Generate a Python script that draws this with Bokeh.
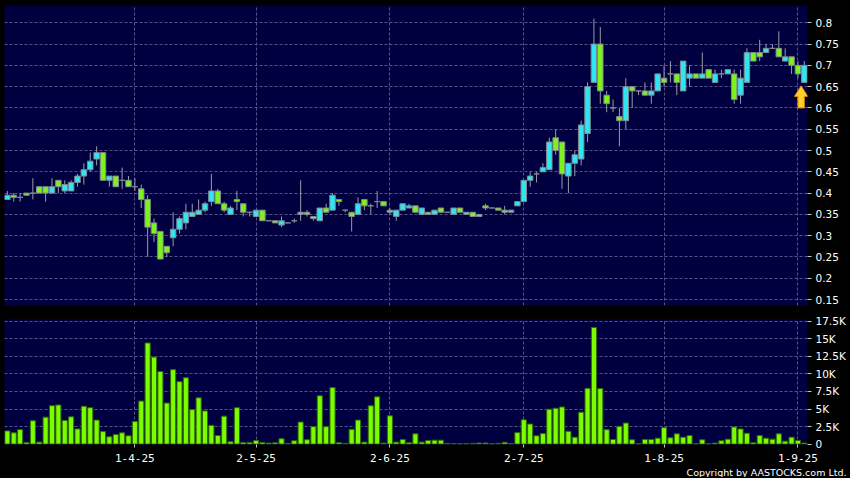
from bokeh.plotting import figure
from bokeh.layouts import column
from bokeh.models import (Range1d, FixedTicker, Title, ColumnDataSource, Grid,
                          GlobalInlineStyleSheet)
from bokeh.embed import file_html
from bokeh.resources import INLINE

# ---------------- data ----------------
opens = [0.385, 0.395, 0.39, 0.40, 0.40, 0.415, 0.415, 0.40, 0.43, 0.405,
         0.405, 0.425, 0.44, 0.455, 0.48, 0.495, 0.43, 0.44, 0.43, 0.43,
         0.415, 0.41, 0.385, 0.33, 0.31, 0.275, 0.295, 0.315, 0.33, 0.345,
         0.35, 0.36, 0.38, 0.405, 0.375, 0.35, 0.385, 0.375, 0.355, 0.345,
         0.36, 0.335, 0.335, 0.325, 0.33, 0.335, 0.35, 0.355, 0.345, 0.335,
         0.365, 0.36, 0.385, 0.36, 0.355, 0.35, 0.385, 0.37, 0.38, 0.38,
         0.36, 0.345, 0.36, 0.365, 0.37, 0.35, 0.355, 0.35, 0.365, 0.355,
         0.35, 0.365, 0.35, 0.355, 0.345, 0.37, 0.365, 0.365, 0.36, 0.355,
         0.37, 0.38, 0.43, 0.445, 0.45, 0.455, 0.53, 0.52, 0.44, 0.47,
         0.48, 0.54, 0.66, 0.75, 0.63, 0.60, 0.58, 0.57, 0.65, 0.64,
         0.64, 0.63, 0.64, 0.67, 0.68, 0.68, 0.64, 0.67, 0.68, 0.67,
         0.69, 0.66, 0.68, 0.68, 0.68, 0.63, 0.66, 0.73, 0.73, 0.73,
         0.74, 0.74, 0.71, 0.72, 0.70, 0.66]
highs = [0.405, 0.40, 0.40, 0.40, 0.435, 0.415, 0.415, 0.435, 0.43, 0.43,
         0.43, 0.445, 0.47, 0.495, 0.51, 0.495, 0.44, 0.44, 0.46, 0.44,
         0.435, 0.42, 0.395, 0.34, 0.31, 0.275, 0.355, 0.345, 0.375, 0.375,
         0.385, 0.38, 0.445, 0.41, 0.38, 0.37, 0.405, 0.375, 0.355, 0.36,
         0.36, 0.335, 0.335, 0.345, 0.33, 0.34, 0.43, 0.36, 0.345, 0.365,
         0.375, 0.40, 0.385, 0.36, 0.355, 0.39, 0.385, 0.375, 0.405, 0.38,
         0.365, 0.36, 0.375, 0.375, 0.37, 0.365, 0.355, 0.36, 0.365, 0.355,
         0.365, 0.365, 0.355, 0.355, 0.35, 0.375, 0.365, 0.365, 0.37, 0.36,
         0.38, 0.43, 0.45, 0.45, 0.47, 0.53, 0.55, 0.52, 0.47, 0.50,
         0.57, 0.66, 0.81, 0.79, 0.64, 0.62, 0.60, 0.67, 0.65, 0.64,
         0.66, 0.66, 0.68, 0.70, 0.71, 0.68, 0.71, 0.70, 0.68, 0.73,
         0.69, 0.69, 0.69, 0.69, 0.69, 0.69, 0.74, 0.73, 0.76, 0.75,
         0.75, 0.78, 0.74, 0.72, 0.71, 0.71]
lows = [0.385, 0.38, 0.38, 0.395, 0.385, 0.40, 0.38, 0.40, 0.40, 0.40,
        0.405, 0.415, 0.42, 0.45, 0.465, 0.43, 0.415, 0.415, 0.41, 0.415,
        0.405, 0.365, 0.25, 0.285, 0.245, 0.25, 0.275, 0.305, 0.315, 0.345,
        0.35, 0.355, 0.37, 0.375, 0.355, 0.35, 0.36, 0.345, 0.345, 0.345,
        0.335, 0.335, 0.33, 0.32, 0.33, 0.33, 0.335, 0.345, 0.335, 0.335,
        0.355, 0.36, 0.37, 0.355, 0.31, 0.35, 0.36, 0.35, 0.365, 0.37,
        0.35, 0.335, 0.36, 0.365, 0.355, 0.35, 0.35, 0.35, 0.355, 0.355,
        0.35, 0.355, 0.35, 0.345, 0.345, 0.36, 0.365, 0.36, 0.35, 0.355,
        0.37, 0.38, 0.415, 0.425, 0.45, 0.455, 0.49, 0.41, 0.40, 0.44,
        0.465, 0.52, 0.66, 0.61, 0.59, 0.59, 0.51, 0.55, 0.60, 0.63,
        0.63, 0.61, 0.64, 0.65, 0.66, 0.63, 0.64, 0.65, 0.67, 0.67,
        0.67, 0.66, 0.67, 0.68, 0.61, 0.61, 0.66, 0.71, 0.71, 0.73,
        0.74, 0.72, 0.71, 0.68, 0.67, 0.66]
closes = [0.395, 0.39, 0.39, 0.395, 0.40, 0.40, 0.40, 0.415, 0.415, 0.42,
          0.425, 0.44, 0.455, 0.475, 0.495, 0.43, 0.44, 0.415, 0.43, 0.415,
          0.415, 0.385, 0.32, 0.305, 0.245, 0.26, 0.315, 0.34, 0.355, 0.355,
          0.36, 0.375, 0.405, 0.375, 0.36, 0.365, 0.38, 0.355, 0.355, 0.36,
          0.335, 0.335, 0.33, 0.335, 0.33, 0.335, 0.355, 0.35, 0.34, 0.365,
          0.355, 0.395, 0.38, 0.36, 0.345, 0.375, 0.37, 0.37, 0.38, 0.37,
          0.355, 0.36, 0.375, 0.37, 0.355, 0.365, 0.35, 0.36, 0.355, 0.355,
          0.365, 0.355, 0.355, 0.345, 0.35, 0.365, 0.365, 0.36, 0.355, 0.36,
          0.38, 0.43, 0.44, 0.445, 0.46, 0.52, 0.50, 0.445, 0.47, 0.49,
          0.56, 0.65, 0.75, 0.64, 0.61, 0.60, 0.57, 0.65, 0.64, 0.64,
          0.63, 0.64, 0.68, 0.66, 0.68, 0.66, 0.71, 0.68, 0.67, 0.68,
          0.67, 0.68, 0.68, 0.69, 0.62, 0.67, 0.73, 0.71, 0.72, 0.74,
          0.74, 0.72, 0.72, 0.70, 0.68, 0.70]
volumes = [1880, 1600, 2060, 240, 3330, 280, 3840, 5470, 5570, 3370,
           3890, 2160, 5390, 5190, 3420, 1780, 1040, 1360, 1600, 1180,
           3230, 6130, 14410, 12400, 10340, 5850, 10620, 8900, 9460, 4910,
           6590, 4730, 2670, 1220, 3980, 340, 5190, 240, 240, 520,
           240, 140, 180, 760, 100, 480, 3140, 620, 2480, 6880,
           2480, 8050, 200, 100, 2100, 3420, 280, 5470, 6730, 140,
           4030, 280, 660, 200, 1460, 280, 520, 560, 560, 100,
           80, 30, 30, 100, 150, 150, 30, 100, 250, 60,
           1640, 3470, 2860, 1180, 1500, 4970, 5110, 5290, 1820, 980,
           4540, 7950, 16610, 7910, 2060, 660, 2530, 3000, 620, 30,
           660, 660, 840, 2340, 900, 1460, 980, 1220, 30, 620,
           30, 140, 480, 700, 2440, 2160, 1540, 200, 1220, 840,
           700, 1460, 420, 980, 520, 140]

date_tick_index = [20, 39, 60, 81, 103, 124]
date_tick_labels = ["1-4-25", "2-5-25", "2-6-25", "2-7-25", "1-8-25", "1-9-25"]
price_ticks = [0.15, 0.2, 0.25, 0.3, 0.35, 0.4, 0.45, 0.5, 0.55, 0.6, 0.65, 0.7, 0.75, 0.8]
price_tick_labels = ["0.15", "0.2", "0.25", "0.3", "0.35", "0.4", "0.45", "0.5",
                     "0.55", "0.6", "0.65", "0.7", "0.75", "0.8"]
volume_ticks = [0, 2500, 5000, 7500, 10000, 12500, 15000, 17500]
volume_tick_labels = ["0", "2.5K", "5K", "7.5K", "10K", "12.5K", "15K", "17.5K"]
copyright_text = "Copyright by AASTOCKS.com Ltd."

# ---------------- styles ----------------
BG = "#000040"
GRID = "#545486"
UP = "#2ee6f2"
DOWN = "#7cf41c"
FLAT = "#9a9aa6"
WICK = "#9a9aa6"
EDGE = "#808890"
VOL = "#7cfc00"
VOL_EDGE = "#2f6a00"
FONT = "DejaVu Sans"

n = len(closes)
idx = list(range(n))
colors = [UP if c > o else (DOWN if c < o else FLAT) for o, c in zip(opens, closes)]
src = ColumnDataSource(dict(x=idx, o=opens, h=highs, l=lows, c=closes,
                            top=[max(o, c) for o, c in zip(opens, closes)],
                            bot=[min(o, c) for o, c in zip(opens, closes)],
                            col=colors, v=volumes))

x_range = Range1d(-0.45, 125.5)


def style(fig):
    fig.background_fill_color = BG
    fig.border_fill_color = "black"
    fig.outline_line_color = None
    fig.grid.grid_line_color = None


def style_axis(a, font, size, standoff, tick_out):
    a.axis_line_color = None
    a.major_tick_line_color = "#c8c8c8"
    a.major_tick_out = tick_out
    a.major_tick_in = 0
    a.minor_tick_line_color = None
    a.major_label_text_color = "white"
    a.major_label_text_font = font
    a.major_label_text_font_size = size
    a.major_label_standoff = standoff


# ---------------- price panel ----------------
p = figure(frame_width=803, frame_height=300, x_range=x_range,
           y_range=Range1d(0.136, 0.8406), x_axis_location=None,
           y_axis_location="right", output_backend="svg", toolbar_location=None,
           min_border_left=4, min_border_right=43, min_border_top=5, min_border_bottom=7)
style(p)
p.add_layout(Grid(dimension=0, ticker=FixedTicker(ticks=date_tick_index),
                  grid_line_color=GRID, grid_line_dash="3 2", grid_line_width=1))
p.add_layout(Grid(dimension=1, ticker=FixedTicker(ticks=price_ticks),
                  grid_line_color=GRID, grid_line_dash="3 2", grid_line_width=1))

ya = p.yaxis[0]
ya.ticker = FixedTicker(ticks=price_ticks)
ya.major_label_overrides = dict(zip(price_ticks, price_tick_labels))
style_axis(ya, FONT, "10.5px", 4, 4)

p.segment(x0="x", y0="h", x1="x", y1="l", source=src, line_color=WICK, line_width=1)
p.vbar(x="x", top="top", bottom="bot", width=0.86, source=src,
       fill_color="col", line_color=EDGE, line_width=1)

# up arrow below the last candle
ax = n - 1 - 0.5
atop = lows[-1] - 0.008
head_h, tot_h, head_w, shaft_w = 0.025, 0.052, 1.05, 0.5
p.patch(x=[ax, ax + head_w, ax + shaft_w, ax + shaft_w, ax - shaft_w, ax - shaft_w, ax - head_w],
        y=[atop, atop - head_h, atop - head_h, atop - tot_h, atop - tot_h, atop - head_h, atop - head_h],
        fill_color="#ffcf2e", line_color="#d88a00", line_width=1)

# ---------------- volume panel ----------------
q = figure(frame_width=803, frame_height=125, x_range=x_range,
           y_range=Range1d(-60, 17760), y_axis_location="right",
           output_backend="svg", toolbar_location=None,
           min_border_left=4, min_border_right=43, min_border_top=7, min_border_bottom=0)
style(q)
q.add_layout(Grid(dimension=0, ticker=FixedTicker(ticks=date_tick_index),
                  grid_line_color=GRID, grid_line_dash="3 2", grid_line_width=1))
q.add_layout(Grid(dimension=1, ticker=FixedTicker(ticks=volume_ticks[1:]),
                  grid_line_color=GRID, grid_line_dash="3 2", grid_line_width=1))

qa = q.yaxis[0]
qa.ticker = FixedTicker(ticks=volume_ticks)
qa.major_label_overrides = dict(zip(volume_ticks, volume_tick_labels))
style_axis(qa, FONT, "10.5px", 4, 4)

xa = q.xaxis[0]
xa.ticker = FixedTicker(ticks=date_tick_index)
xa.major_label_overrides = dict(zip(date_tick_index, date_tick_labels))
style_axis(xa, "DejaVu Sans Mono", "11px", 6, 3)

q.vbar(x="x", top="v", bottom=0, width=0.8, source=src,
       fill_color=VOL, line_color=VOL_EDGE, line_width=1)

q.add_layout(Title(text=copyright_text, align="right", text_color="white",
                   text_font=FONT, text_font_size="9.5px", text_font_style="normal",
                   standoff=0, offset=-39), "below")

layout = column(p, q, spacing=0,
                stylesheets=[GlobalInlineStyleSheet(css="html, body { background-color: #000000; }")])

open("out.html", "w").write(file_html(layout, INLINE))
